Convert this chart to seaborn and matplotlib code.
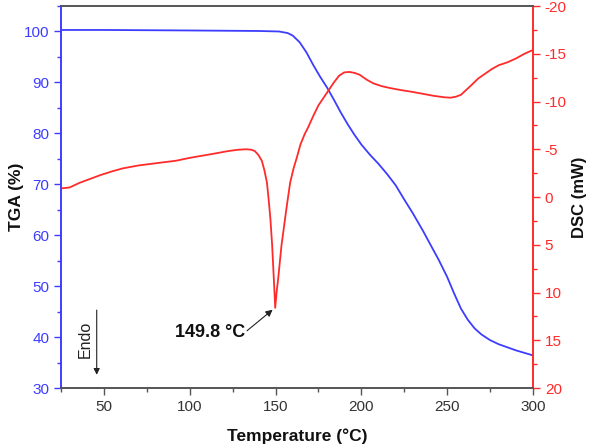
import numpy as np
import pandas as pd
import matplotlib
matplotlib.use("Agg")
import matplotlib.pyplot as plt
from matplotlib.ticker import MultipleLocator
import seaborn as sns

# TGA curve (temperature in C, mass %)
tga_temp = [25, 50, 100, 140, 152, 157, 160, 164, 168, 172, 176, 180, 184, 188, 192, 196,
            200, 205, 210, 215, 220, 225, 230, 236, 240, 245, 250, 254, 258, 262, 266,
            270, 275, 280, 285, 290, 295, 300]
tga_mass = [100.3, 100.3, 100.2, 100.1, 100.0, 99.7, 99.2, 97.9, 95.9, 93.4, 91.1, 89.0,
            86.6, 84.1, 81.8, 79.7, 77.8, 75.8, 74.0, 72.0, 69.8, 67.0, 64.3, 60.8, 58.3,
            55.2, 51.8, 48.6, 45.6, 43.4, 41.7, 40.5, 39.4, 38.6, 38.0, 37.4, 36.9, 36.4]

# DSC curve (temperature in C, heat flow mW)
dsc_temp = [25, 30, 36, 42, 48, 55, 61, 70, 83, 92, 100, 108, 116, 122, 128, 133, 136,
            138, 140, 142, 143.5, 145, 146, 147, 148, 149, 149.8, 150.6, 151.5, 152.5,
            153.5, 155, 156.5, 158.5, 160.5, 162.5, 164.5, 167, 169, 172, 175, 178, 181,
            184, 187, 190, 193, 196, 199, 203, 207, 212, 217, 223, 230, 236, 242, 248,
            252, 255, 258, 261, 264, 268, 272, 276, 280, 285, 290, 295, 300]
dsc_flow = [-0.9, -1.0, -1.5, -1.9, -2.3, -2.7, -3.0, -3.3, -3.6, -3.8, -4.1, -4.35, -4.6,
            -4.8, -4.95, -5.0, -4.95, -4.8, -4.4, -3.8, -2.8, -1.5, 0.3, 2.3, 5.0, 8.6,
            11.6, 10.0, 8.6, 6.8, 5.0, 3.0, 1.0, -1.5, -3.0, -4.2, -5.5, -6.6, -7.3, -8.5,
            -9.6, -10.4, -11.2, -12.0, -12.7, -13.05, -13.1, -13.0, -12.8, -12.3, -11.9,
            -11.6, -11.4, -11.2, -11.0, -10.8, -10.6, -10.45, -10.4, -10.5, -10.7, -11.2,
            -11.7, -12.4, -12.9, -13.4, -13.8, -14.1, -14.5, -15.0, -15.4]

tga = pd.DataFrame({"Temperature": tga_temp, "TGA": tga_mass})
dsc = pd.DataFrame({"Temperature": dsc_temp, "DSC": dsc_flow})

blue = "#3d3dff"
red = "#ff2b2b"

sns.set_style("ticks")
plt.rcParams["font.family"] = ["Liberation Sans", "DejaVu Sans"]
plt.rcParams["axes.unicode_minus"] = False

fig = plt.figure(figsize=(5.9, 4.46), dpi=100)
ax = fig.add_axes([0.1034, 0.130, 0.80, 0.8565])
ax2 = ax.twinx()

sns.lineplot(data=tga, x="Temperature", y="TGA", ax=ax, color=blue, lw=1.3, sort=False)
sns.lineplot(data=dsc, x="Temperature", y="DSC", ax=ax2, color=red, lw=1.3, sort=False)

ax.set_xlim(25, 300)
ax.set_ylim(30, 105)
ax2.set_ylim(20, -20)

ax.xaxis.set_major_locator(MultipleLocator(50))
ax.xaxis.set_minor_locator(MultipleLocator(25))
ax.yaxis.set_major_locator(MultipleLocator(10))
ax.yaxis.set_minor_locator(MultipleLocator(5))
ax2.yaxis.set_major_locator(MultipleLocator(5))
ax2.yaxis.set_minor_locator(MultipleLocator(2.5))

fs = 11
ax.set_xlabel("Temperature (°C)", fontsize=12.5, fontweight="bold", color="#111111")
ax.set_ylabel("TGA (%)", fontsize=12.5, fontweight="bold", color="#111111")
ax2.set_ylabel("DSC (mW)", fontsize=12, fontweight="bold", color="#111111")
ax.xaxis.set_label_coords(0.5, -0.105)
ax.yaxis.set_label_coords(-0.078, 0.5)
ax2.yaxis.set_label_coords(1.083, 0.5)

for a in (ax, ax2):
    for s in a.spines.values():
        s.set_color("#555555")
        s.set_linewidth(1.2)
ax.spines["left"].set_color(blue)
ax2.spines["left"].set_color(blue)
ax2.spines["right"].set_color(red)
ax.spines["right"].set_color(red)

ax.tick_params(axis="x", which="major", length=5, width=1, colors="#555555",
               labelcolor="#333333", labelsize=fs)
ax.tick_params(axis="x", which="minor", length=3, width=1, colors="#555555")
ax.tick_params(axis="y", which="major", length=5, width=1, colors=blue, labelsize=fs)
ax.tick_params(axis="y", which="minor", length=3, width=1, colors=blue)
ax2.tick_params(axis="y", which="major", length=5, width=1, colors=red, labelsize=fs)
ax2.tick_params(axis="y", which="minor", length=3, width=1, colors=red)

# peak label
ax2.text(111.8, 14.2, "149.8 °C", fontsize=13, fontweight="bold", color="#111111",
         ha="center", va="center")
ax2.annotate("", xy=(148.3, 11.8), xytext=(133.4, 14.0),
             arrowprops=dict(arrowstyle="-|>", color="#222222", lw=0.8,
                             shrinkA=0, shrinkB=0, mutation_scale=10))

# endo direction
ax.annotate("", xy=(45.8, 32.6), xytext=(45.8, 45.3),
            arrowprops=dict(arrowstyle="-|>", color="#222222", lw=0.8,
                            shrinkA=0, shrinkB=0, mutation_scale=9))
ax.text(39.0, 39.6, "Endo", rotation=90, fontsize=11.5, color="#222222",
        ha="center", va="center")

fig.savefig("out.png", dpi=100)
